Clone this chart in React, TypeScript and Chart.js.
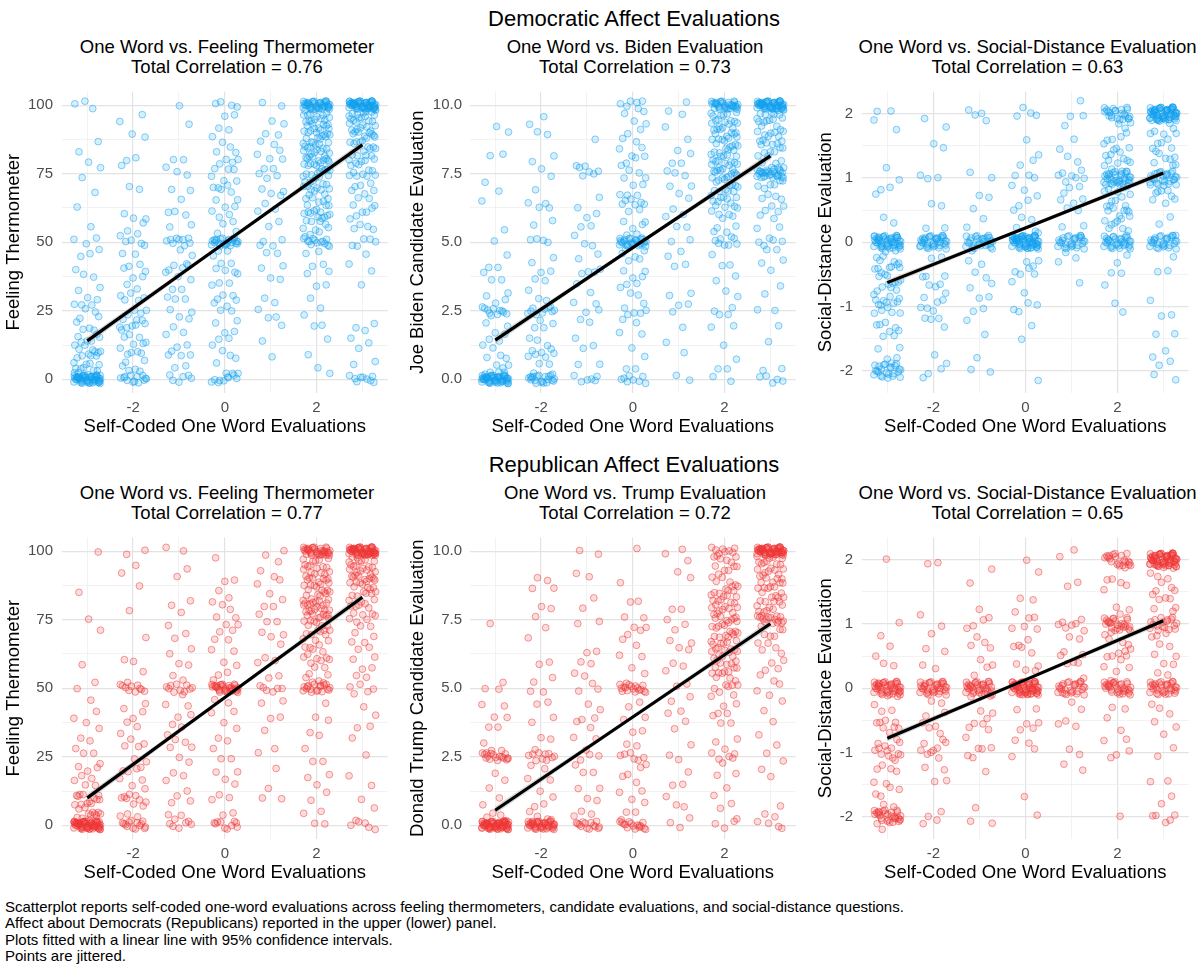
import React, { useEffect, useRef } from 'react';
import { Chart, registerables } from 'chart.js';

Chart.register(...registerables);

const FONT = "'Liberation Sans', Arial, Helvetica, sans-serif";

// ---------------- data ----------------
const CATEGORIES = [-3, -2, -1, 0, 1, 2, 3];
const X_GRID = [-3, -2, -1, 0, 1, 2, 3];
const X_TICKS = [-2, 0, 2];
const X_TICK_LABELS = ['-2', '0', '2'];
const FIT_X = [-3, 0, 3];

const FT_GRID = [0, 12.5, 25, 37.5, 50, 62.5, 75, 87.5, 100];
const FT_TICKS = [0, 25, 50, 75, 100];
const FT_TICK_LABELS = ['0', '25', '50', '75', '100'];
const TEN_GRID = [0, 1.25, 2.5, 3.75, 5, 6.25, 7.5, 8.75, 10];
const TEN_TICKS = [0, 2.5, 5, 7.5, 10];
const TEN_TICK_LABELS = ['0.0', '2.5', '5.0', '7.5', '10.0'];
const SOC_GRID = [-2, -1.5, -1, -0.5, 0, 0.5, 1, 1.5, 2];
const SOC_TICKS = [-2, -1, 0, 1, 2];
const SOC_TICK_LABELS = ['-2', '-1', '0', '1', '2'];

// observed y values per category (value*count = repeated observations)
const DEM_FT_COLUMNS = [
  '100*3 87 82 80 77 75 67 63 55 52 50*2 47 46 45 40 38 37 35 32 30 28*2 27 26 25*2 24 22 20*2 18 17 16 15*3 14 13 12*2 11 10*5 9 8*2 7*2 6 5*3 4*2 3*2 2*3 1*4 0*50',
  '95*2 90 88 81 80 78 70 69 60*2 59 56 55 53 51 50*4 47 45 42 40*3 38 36 35 32 30*4 28 26 25*2 23 22 21 20*5 19 18 16 15*3 13 12 10*4 9 8 6 5 4 3 2 1 0*12',
  '100 92 81 80 76 75*2 70 69 67 60*3 57 55 52 50*8 48 45 43 41 40*4 38 36 34 32 30*2 28 26 25 23 21 20 17 15 13 11 10*3 8 5 3 1*2 0*4',
  '100*4 97 95 92 90 88 86 85 83 82 81 80*2 78 77 76 75*2 73 72 71 70*2 69 68 67 65 63 62 60*3 58 56 55 53 51 50*24 48 46 45 43 41 40*3 38 36 35 33 31 30*2 29 28 27 25 24 22 20 18 16 15 14 12 10 9 8 5 3 2 1*2 0*8',
  '100*2 95 93 91 88 87 85 83 82 81 80 78 76 75*2 72 70 69 68 66 65 62 60 58 55 52 50*2 48 46 45 42 40 38 35 30 27 25 24 21 20 13 9',
  '100*40 99*2 98*3 97*3 96*3 95*4 94*3 93*3 92*3 91*3 90*5 89*3 88*3 87*3 86*3 85*4 84*3 83*3 82*3 81*3 80*5 79*3 78*3 77*3 76*3 75*5 74*2 73*2 72*2 71*2 70*4 69*2 68*2 67*2 66 65*3 64 63*2 62 61 60*8 59 58*2 57 56 55*3 54 53 52 51 50*12 48 45 42 40*2 38 35 33 30 25 23 21 18 15 8 5 2',
  '100*60 99*2 98*4 97*3 96*3 95*4 94*3 93*2 92*3 91*2 90*5 89*3 88*2 87*2 86*2 85*3 84*2 83*2 82 81*2 80*4 79 78 77*2 76 75*4 74 73 72 70*3 69 68 66 65 64 63 62 61 60*2 58 57 55*2 54 52 50*3 49 45 43 38 35 20*2 17 15 14 10 8 5 1 0*8',
];

const DEM_BIDEN_COLUMNS = [
  '9.3 9.0 8.3 8.1 7.2 6.8 6.6 5.3 5.1 4.5 4.2 4.0 3.9 3.7 3.5 3.3 3.0 2.8*2 2.5*10 2.2 2.0*2 1.8 1.5*2 1.3 1.2 1.0*2 0.8 0.7 0.6 0.5 0.4 0.3 0.2*2 0.1*3 0*50',
  '9.5 9.3 9.0 8.9 8.3 7.9 7.7 7.3 7.0 6.4 6.3*2 6.2 5.9 5.6 5.2 5.0*3 4.5 4.2 4.0 3.8 3.7 3.5 3.2 3.0 2.8 2.5*10 2.2 2.0*2 1.8 1.5 1.3*2 1.1 1.0*4 0.8 0.7 0.6 0.5 0.3 0.2 0*20',
  '8.8 7.7*5 7.5 7.3 6.7 6.2 6.0 5.9 5.6 5.5 5.2 5.0 4.8 4.6 4.3 4.0*3 3.8 3.5 3.1 2.9 2.6 2.5*2 2.3 2.0 1.5 1.3 1.0 0.7 0.5 0*6',
  '10*6 9.8 9.6 9.5 9.3 9.1 9.0 8.8 8.6 8.5 8.3 8.2 8.1 8.0*2 7.8 7.6 7.5*2 7.3 7.1 7.0 6.8 6.7 6.6 6.5*5 6.3 6.2 6.0 5.8 5.7 5.6 5.5 5.3 5.2 5.0*28 4.9 4.8 4.7 4.6 4.5 4.4 4.2 4.0 3.9 3.8 3.6 3.5 3.4 3.3 3.2 3.0 2.8 2.5*4 2.3 2.2 2.0 1.8 1.5 1.2 0.8 0.5 0.3 0*8',
  '10 9.8 9.6 9.3 8.6 8.4 8.2 8.0 7.8 7.6 7.5 7.4 7.2 7.0 6.8 6.5 6.3 6.0 5.8 5.6 5.5 5.2 5.0 4.8 4.4 4.2 4.0 3.2 3.0 2.8 2.6 2.5 1.8 1.3 1.1 0*2',
  '10*30 9.9*2 9.8*3 9.7*2 9.6*3 9.5*3 9.4*2 9.3*3 9.2*2 9.1*3 9.0*4 8.9*2 8.8*3 8.7*2 8.6*3 8.5*3 8.4*2 8.3*3 8.2*2 8.1*3 8.0*4 7.9*2 7.8*3 7.7*2 7.6*3 7.5*6 7.4*2 7.3*3 7.2*2 7.1*2 7.0*4 6.9 6.8*2 6.7*2 6.6*2 6.5*4 6.4 6.3*2 6.2 6.1 6.0*3 5.8 5.7 5.5*2 5.3 5.2 5.0*6 4.8 4.5 4.3 4.0 3.8 3.5 3.3 3.0 2.5*3 2.3 2.0 1.8 1.3 0.7 0.5 0.3 0.1 0',
  '10*55 9.9*2 9.8*3 9.7*2 9.6*2 9.5*4 9.4*2 9.3*2 9.2*2 9.0*4 8.9*2 8.8*2 8.7*2 8.6*2 8.5*3 8.4 8.3*2 8.2 8.1 8.0*3 7.8*2 7.7*2 7.6*3 7.5*22 7.4*2 7.3*2 7.2 7.1 7.0*3 6.8 6.6*2 6.5 6.4 6.3*2 6.0*2 5.8 5.6 5.4 5.2 5.0*4 4.8 4.6 4.5 4.2 4.0 3.3 3.2 2.5 2.4 2.0 1.3 0.5 0.3 0*5',
];

const DEM_SOCIAL_COLUMNS = [
  '2.05 2.0 1.97 1.65 1.2 0.95 0.9 0.8 0.75 0.35 0.3 0.05*3 0*45 -0.1 -0.2 -0.25 -0.3*5 -0.35 -0.45*6 -0.55 -0.6*6 -0.7 -0.75*3 -0.85 -0.9*6 -1.0*6 -1.1 -1.2 -1.3*5 -1.35 -1.45 -1.55 -1.6 -1.7 -1.75 -1.9 -1.95*3 -2.0*20 -2.05 -2.1',
  '1.9*2 1.55 1.4 1.05 1.0 0.95 0.6 0.55 0.3 0.2 0.15 0*35 -0.15 -0.2 -0.3 -0.45 -0.55 -0.6*2 -0.65 -0.75*2 -0.9 -1.0*4 -1.05 -1.1 -1.3*2 -1.25 -1.7 -1.9 -1.95 -2.05 -2.1',
  '2.1 2.0 1.9*2 1.05*2 0.8 0.6 0.55 0.3 0.2 0.15 0*28 -0.15 -0.25 -0.35 -0.55*2 -0.6 -0.75 -0.8 -0.95 -1.05 -1.1 -1.25 -1.35 -1.9 -2.0 -2.05',
  '2.1 2.0*2 1.9 1.65 1.35 1.3 1.2 1.05 1.0 0.95 0.9 0.85 0.7 0.65 0.6 0.5 0.4 0.3 0.25 0.2 0.1*3 0*62 -0.25 -0.3 -0.4 -0.45*3 -0.55 -0.6 -0.75 -1.0*3 -1.05 -1.25 -1.6 -2.05',
  '2.1 2.0 1.95 1.9 1.55 1.45 1.3 1.25 1.1 1.05*3 1.0*2 0.95 0.9 0.8 0.75*2 0.7 0.6 0.5 0.45 0.3 0.2 0*28 -0.1 -0.25 -0.4 -0.6',
  '2.0*20 1.95*2 1.9*2 1.85 1.7*2 1.6*4 1.5 1.45*2 1.35*5 1.25*2 1.2*2 1.1*2 1.0*30 0.9*3 0.85*2 0.8*3 0.7*3 0.6*2 0.55*2 0.5*3 0.45*3 0.4*2 0.3*4 0.2*2 0.15 0*32 -0.25 -0.3 -0.45 -0.55 -0.7 -1.0 -1.05',
  '2.0*65 1.9*2 1.8*2 1.7*3 1.6*3 1.5*2 1.4*4 1.3*2 1.25 1.2 1.1*3 1.0*22 0.95 0.9*2 0.85 0.8*2 0.75*4 0.7 0.6 0.4 0.2 0.15 0*28 -0.3 -0.4 -0.45 -1.0 -1.1 -1.2 -1.35 -1.45 -1.6 -1.85*2 -2.0 -2.1*2',
];

const REP_FT_COLUMNS = [
  '100 84 76 71 60 51 50 45 40*2 38 35 33 30 28 27 25 24 21 20*2 19 17 15*2 14 12 11 10*6 9 8*2 7*2 6 5*4 4*2 3*3 2*3 1*5 0*60',
  '100*2 94 92 88 77 70 60*2 55 53 51 50*8 48 45 42 40*2 38 35 33 30*3 28 25 23 21 20*3 18 15*2 13 11 10*6 8 6 5 3 2 1*2 0*12',
  '100*2 94 90 83 80 79 72 70 67 65 62 60 57 55 52 50*10 47 45 42 40*2 38 35 33 31 30*2 28 25 22 20 18 15 13 10*2 8 5 3 1*3 0*4',
  '97 90 88 86 82 81 80 79 76 75 74 73 72 70 68 67 65 62 60 58 56 55 53 51 50*30 48 46 44 42 40 38 35 33 30 28 25 23 21 19 17 14 12 10 8 5 3 2 1 0*8',
  '100*2 95 93 90 89 88 85 82 81 79 77 75 73 71 70 69 65 62 60 58 55 53 51 50*4 48 46 44 40 38 35 27 26 22 12 10 9',
  '100*32 99*2 98*2 97*3 96*2 95*3 94*3 93*2 92*3 91*2 90*4 89*3 88*3 87*3 86*2 85*3 84*3 83*3 82*3 81*3 80*5 79*4 78*3 77*3 76*3 75*4 74*2 73*2 72*2 71*2 70*3 69 68*2 67 66 65*2 64 63 62*2 61 60*4 58 57 56 55 54 53 52 51 50*18 43 40 38 35 32 28 24 22 20 17 15 11 10 5 3 1 0',
  '100*60 99*2 98*3 97*3 96*3 95*3 94*3 93*3 92*3 91*3 90*5 89*3 88*3 87*2 86*2 85*3 84*2 83*2 82*2 81 80*3 79 78 77*2 76 75*2 74 73 72 70*2 68 66 65 63 62 60 58 56 55 53 50*4 47 44 40 37 35 32 25 19 13 10 6 3 0*5',
];

const REP_TRUMP_COLUMNS = [
  '7.5 5.1 5.0 4.9 4.5 4.2 4.0 3.9 3.7 3.5 3.0 2.8 2.6*3 2.5*14 2.4 2.0 1.5 1.4 0.9 0.7 0.5 0.3 0.2*2 0.1*3 0*65',
  '9.0 8.9 8.8 8.6 8.0 7.8 7.7 7.2 6.7 6.0 5.8 5.5 5.2 5.0 4.8 4.5 4.3 4.0 3.7 3.3 3.0 2.8 2.5*10 2.2 2.0 1.8 1.5 1.3 1.0 0.8 0.7 0.5 0.3 0.2*2 0.1*3 0*40',
  '10*2 9.2 9.1 8.3 7.8 7.5 7.3 6.4 6.2 6.0 5.8 5.5 5.3*2 5.0 4.8 4.5 4.2 4.0 3.8*2 3.5 3.3 3.0 2.8 2.5*3 2.2 2.0 1.8 1.5 1.3 1.0 0.8 0.6 0.4 0.2 0*14',
  '10 8.8 8.3 8.0 7.6 7.5 7.3 7.2 7.1 7.0 6.8 6.5 6.3 6.0 5.8 5.5 5.3 5.0*16 4.8 4.5 4.2 4.0 3.8 3.5 3.3 3.0 2.8 2.5*6 2.2 2.0*2 1.8 1.5 1.3 1.1 1.0 0.8 0.6 0.4 0.2 0*16',
  '10*2 9.5 9.3 9.0 8.0 7.8 7.5 7.4 7.0 6.8 6.7 6.5 6.3 6.0 5.8 5.5 5.2 5.0 4.8 4.5 4.3 4.0 3.8 3.4 3.0 2.5*2 1.8 1.5 1.4 1.0 0.8 0.6 0.3 0*2',
  '10*8 9.9 9.8*2 9.7 9.6*2 9.5 9.4*2 9.3 9.2*2 9.0*2 8.9 8.8*2 8.7*2 8.6*2 8.5*3 8.4*2 8.3*3 8.2*2 8.1*2 8.0*3 7.9*2 7.8*3 7.7*2 7.6*2 7.5*4 7.4*2 7.3*2 7.2*3 7.1*2 7.0*3 6.9*2 6.8*3 6.7*2 6.6*3 6.5*3 6.4*2 6.3*3 6.2*2 6.1*2 6.0*3 5.9 5.8*2 5.7*2 5.6*2 5.5*3 5.4 5.3*2 5.2 5.1 5.0*4 4.8 4.6 4.4*2 4.2 4.0*2 3.8 3.6 3.3 3.0 2.8 2.5*5 2.2 2.0 1.8 1.5 1.0 0.8 0.5 0.3 0*3',
  '10*60 9.9*2 9.8*2 9.7*3 9.6*2 9.5*3 9.4*2 9.3*2 9.2*3 9.1*2 9.0*3 8.9*2 8.8*2 8.7*2 8.6*2 8.5*3 8.4*2 8.3*2 8.2*2 8.1*2 8.0*3 7.9 7.8*2 7.7*2 7.6*3 7.5*10 7.4*2 7.2*2 7.0*3 6.8 6.6*2 6.5 6.3*2 6.0*2 5.8 5.6 5.5 5.2 5.0*2 4.8 4.5 4.3 3.7 3.3 3.0 2.5*2 2.0 1.8 0.6 0.5 0.3 0*4',
];

const REP_SOCIAL_COLUMNS = [
  '2.05 1.0 0.9 0.6 0.5 0.4 0.3 0.05*3 0*40 -0.1 -0.2 -0.3 -0.35*2 -0.5 -0.55*3 -0.6*3 -0.7 -0.8 -0.9*3 -1.0*8 -1.05 -1.1 -1.2 -1.25 -1.3 -1.4*2 -1.45 -1.6*3 -1.65 -1.8 -1.9 -1.95*3 -2.0*25 -2.1*3',
  '2.0 1.95 1.05 1.0 0.8 0.65 0.6 0.4 0.3 0*35 -0.2 -0.25 -0.3 -0.45 -0.5 -0.6 -0.7*2 -0.8 -0.9*3 -1.0*4 -1.1 -1.25 -1.3 -1.4 -1.45 -1.9 -2.0 -2.1*2',
  '1.9 1.6 1.3 1.0*3 0.9 0.8 0.7 0.65 0.6 0.5 0.35 0.3 0.25 0*35 -0.1 -0.2 -0.3 -0.4 -0.45 -0.55 -0.6*2 -0.7 -0.75 -0.9 -0.95 -1.0*2 -1.05 -1.25 -1.95 -2.0 -2.1',
  '2.05 1.8 1.5 1.3 1.2 1.05 1.0*3 0.9 0.75 0.7 0.65 0.6 0.55 0.45 0.35 0.3 0.2 0*60 -0.2 -0.3 -0.4 -0.5 -0.55*2 -0.7 -0.8 -0.9 -1.0 -1.05 -1.65 -2.0',
  '2.1 2.05 1.7 1.5 1.0*6 0.9 0.8 0.75 0.6 0.55 0.5 0.45 0.4 0.3 0.2 0*26 -0.1 -0.2 -0.4 -0.45 -0.6 -0.65 -1.0*2 -1.2*2',
  '2.0*20 1.9 1.8*2 1.7 1.6*2 1.5 1.3 1.2 1.1*2 1.0*22 0.9*2 0.8*3 0.7*2 0.6*3 0.5*2 0.4*3 0.3*2 0.2 0*32 -0.2 -0.4 -0.45 -0.7 -0.75 -0.9 -1.0*3 -2.05',
  '2.0*65 1.9*2 1.8*2 1.7*2 1.6*3 1.5*2 1.4*2 1.3*2 1.2 1.1*2 1.0*16 0.9*2 0.8*2 0.7 0.6*2 0.5 0.4 0.3*2 0.2 0*32 -0.25 -0.35 -0.4 -0.5 -0.55 -0.7 -1.0*2 -1.45 -1.55 -1.65 -1.85 -1.9 -2.0*2 -2.05*2',
];

// fitted linear lines at x = -3, 0, 3 and 95% CI half widths
const DEM_FT_FIT = [14, 49.8, 85.5];
const DEM_BIDEN_FIT = [1.43, 4.8, 8.15];
const DEM_SOCIAL_FIT = [-0.63, 0.22, 1.08];
const REP_FT_FIT = [10, 46.6, 83.2];
const REP_TRUMP_FIT = [0.55, 3.95, 7.35];
const REP_SOCIAL_FIT = [-0.78, 0.13, 1.05];
const FT_CI = [1.4, 0.6, 1.4];
const TEN_CI = [0.14, 0.06, 0.14];
const SOC_CI = [0.05, 0.025, 0.05];

// fixed jitter offsets (fraction of jitter width / height)
const JITTER_DX = [-0.27, 0.12, -0.05, 0.24, -0.18, 0.03, 0.29, -0.11, 0.17, -0.22, 0.08, -0.29, 0.2, -0.02, 0.26, -0.14, 0.06, -0.25, 0.14, -0.08, 0.28, -0.19, 0.01, 0.22, -0.12, 0.1, -0.28, 0.18, -0.04, 0.25, -0.16, 0.05, -0.23, 0.15, -0.09, 0.27, -0.2, 0.0, 0.21, -0.13, 0.09];
const JITTER_DY = [0.3, -0.8, 0.9, -0.2, 0.6, -0.5, 0.1, -0.9, 0.7, -0.1, 0.4, -0.6, 0.95, -0.35, 0.2, -0.75, 0.5, 0.0, -0.45, 0.8, -0.95, 0.25, -0.15, 0.65, -0.55, 0.05, 0.85, -0.3, 0.45, -0.7, 0.15, -0.85, 0.55, -0.05, 0.75, -0.4, 0.35, -0.65, 0.9, -0.25, 0.6];

// ---------------- helpers ----------------
function expand(s: string): number[] {
  const out: number[] = [];
  for (const tok of s.trim().split(/\s+/)) {
    const [v, n] = tok.split('*');
    const c = n ? parseInt(n, 10) : 1;
    for (let i = 0; i < c; i++) out.push(parseFloat(v));
  }
  return out;
}

function buildPoints(cols: string[], yJit: number, seed: number) {
  const pts: { x: number; y: number }[] = [];
  cols.forEach((col, ci) => {
    expand(col).forEach((y, i) => {
      const k = (seed + ci * 11 + i) % JITTER_DX.length;
      pts.push({ x: CATEGORIES[ci] + JITTER_DX[k], y: y + JITTER_DY[k] * yJit });
    });
  });
  return pts;
}

const BLUE = [20, 162, 240];
const RED = [240, 55, 55];
const rgba = (c: number[], a: number) => `rgba(${c[0]},${c[1]},${c[2]},${a})`;

const PLOT_H = 306;
const X_AXIS_H = 45;
const ROW_TOP = [87, 533];
const COLS = [
  { plotLeft: 62, plotW: 330, yAxisW: 62, titlePad: 3, tickPad: 9 },
  { plotLeft: 470, plotW: 330, yAxisW: 70, titlePad: 7, tickPad: 8 },
  { plotLeft: 862, plotW: 331, yAxisW: 62, titlePad: 15, tickPad: 9 },
];

type PanelCfg = {
  row: number; col: number; title: string; subtitle: string; yTitle: string;
  columns: string[]; fit: number[]; ci: number[]; color: number[];
  yMin: number; yMax: number; yGrid: number[]; yTicks: number[]; yLabels: string[]; yJit: number; seed: number;
};

const PANELS: PanelCfg[] = [
  { row: 0, col: 0, title: 'One Word vs. Feeling Thermometer', subtitle: 'Total Correlation = 0.76', yTitle: 'Feeling Thermometer', columns: DEM_FT_COLUMNS, fit: DEM_FT_FIT, ci: FT_CI, color: BLUE, yMin: -5, yMax: 105, yGrid: FT_GRID, yTicks: FT_TICKS, yLabels: FT_TICK_LABELS, yJit: 1.6, seed: 0 },
  { row: 0, col: 1, title: 'One Word vs. Biden Evaluation', subtitle: 'Total Correlation = 0.73', yTitle: 'Joe Biden Candidate Evaluation', columns: DEM_BIDEN_COLUMNS, fit: DEM_BIDEN_FIT, ci: TEN_CI, color: BLUE, yMin: -0.5, yMax: 10.5, yGrid: TEN_GRID, yTicks: TEN_TICKS, yLabels: TEN_TICK_LABELS, yJit: 0.16, seed: 5 },
  { row: 0, col: 2, title: 'One Word vs. Social-Distance Evaluation', subtitle: 'Total Correlation = 0.63', yTitle: 'Social-Distance Evaluation', columns: DEM_SOCIAL_COLUMNS, fit: DEM_SOCIAL_FIT, ci: SOC_CI, color: BLUE, yMin: -2.35, yMax: 2.35, yGrid: SOC_GRID, yTicks: SOC_TICKS, yLabels: SOC_TICK_LABELS, yJit: 0.11, seed: 9 },
  { row: 1, col: 0, title: 'One Word vs. Feeling Thermometer', subtitle: 'Total Correlation = 0.77', yTitle: 'Feeling Thermometer', columns: REP_FT_COLUMNS, fit: REP_FT_FIT, ci: FT_CI, color: RED, yMin: -5, yMax: 105, yGrid: FT_GRID, yTicks: FT_TICKS, yLabels: FT_TICK_LABELS, yJit: 1.6, seed: 3 },
  { row: 1, col: 1, title: 'One Word vs. Trump Evaluation', subtitle: 'Total Correlation = 0.72', yTitle: 'Donald Trump Candidate Evaluation', columns: REP_TRUMP_COLUMNS, fit: REP_TRUMP_FIT, ci: TEN_CI, color: RED, yMin: -0.5, yMax: 10.5, yGrid: TEN_GRID, yTicks: TEN_TICKS, yLabels: TEN_TICK_LABELS, yJit: 0.16, seed: 7 },
  { row: 1, col: 2, title: 'One Word vs. Social-Distance Evaluation', subtitle: 'Total Correlation = 0.65', yTitle: 'Social-Distance Evaluation', columns: REP_SOCIAL_COLUMNS, fit: REP_SOCIAL_FIT, ci: SOC_CI, color: RED, yMin: -2.35, yMax: 2.35, yGrid: SOC_GRID, yTicks: SOC_TICKS, yLabels: SOC_TICK_LABELS, yJit: 0.11, seed: 13 },
];

const MAJOR_GRID = '#E3E3E3';
const MINOR_GRID = '#EFEFEF';

function Panel({ cfg }: { cfg: PanelCfg }) {
  const ref = useRef<HTMLCanvasElement | null>(null);
  const c = COLS[cfg.col];
  const left = c.plotLeft - c.yAxisW;
  const top = ROW_TOP[cfg.row];
  const width = c.yAxisW + c.plotW;
  const height = PLOT_H + X_AXIS_H;

  useEffect(() => {
    if (!ref.current) return;
    const pts = buildPoints(cfg.columns, cfg.yJit, cfg.seed);
    const fitData = FIT_X.map((x, i) => ({ x, y: cfg.fit[i] }));
    const upper = FIT_X.map((x, i) => ({ x, y: cfg.fit[i] + cfg.ci[i] }));
    const lower = FIT_X.map((x, i) => ({ x, y: cfg.fit[i] - cfg.ci[i] }));
    const isMajorX = (v: number) => X_TICKS.includes(v);
    const isMajorY = (v: number) => cfg.yTicks.includes(v);

    const chart = new Chart(ref.current, {
      type: 'scatter',
      data: {
        datasets: [
          { type: 'line', data: fitData, borderColor: '#000000', borderWidth: 3.2, pointRadius: 0, fill: false, order: 0, tension: 0 } as any,
          { type: 'line', data: upper, borderColor: 'rgba(0,0,0,0)', borderWidth: 0, pointRadius: 0, fill: false, order: 1 } as any,
          { type: 'line', data: lower, borderColor: 'rgba(0,0,0,0)', borderWidth: 0, pointRadius: 0, fill: '-1', backgroundColor: 'rgba(160,160,160,0.4)', order: 1 } as any,
          {
            type: 'scatter', data: pts, pointRadius: 3.4, pointHoverRadius: 3.4,
            backgroundColor: rgba(cfg.color, 0.17), borderColor: rgba(cfg.color, 0.5), borderWidth: 1, order: 2,
          } as any,
        ],
      },
      options: {
        animation: false,
        responsive: false,
        events: [],
        layout: { padding: 0 },
        plugins: { legend: { display: false }, tooltip: { enabled: false }, title: { display: false } },
        scales: {
          x: {
            type: 'linear', min: -3.55, max: 3.55,
            afterBuildTicks: (s: any) => { s.ticks = X_GRID.map((v) => ({ value: v })); },
            afterFit: (s: any) => { s.height = X_AXIS_H; s.paddingLeft = 0; s.paddingRight = 0; },
            ticks: {
              autoSkip: false, maxRotation: 0, minRotation: 0, padding: 6, color: '#4D4D4D',
              font: { family: FONT, size: 15 },
              callback: (v: any) => { const i = X_TICKS.indexOf(Number(v)); return i >= 0 ? X_TICK_LABELS[i] : ''; },
            },
            grid: {
              drawTicks: false,
              color: (ctx: any) => (ctx.tick && isMajorX(ctx.tick.value) ? MAJOR_GRID : MINOR_GRID),
              lineWidth: (ctx: any) => (ctx.tick && isMajorX(ctx.tick.value) ? 1.2 : 0.8),
            },
            border: { display: false },
            title: { display: true, text: 'Self-Coded One Word Evaluations', color: '#000', font: { family: FONT, size: 18.5 }, padding: { top: 0, bottom: 0 } },
          },
          y: {
            type: 'linear', min: cfg.yMin, max: cfg.yMax,
            afterBuildTicks: (s: any) => { s.ticks = cfg.yGrid.map((v) => ({ value: v })); },
            afterFit: (s: any) => { s.width = c.yAxisW; s.paddingTop = 0; s.paddingBottom = 0; },
            ticks: {
              autoSkip: false, padding: c.tickPad, color: '#4D4D4D',
              font: { family: FONT, size: 15 },
              callback: (v: any) => { const i = cfg.yTicks.indexOf(Number(v)); return i >= 0 ? cfg.yLabels[i] : ''; },
            },
            grid: {
              drawTicks: false,
              color: (ctx: any) => (ctx.tick && isMajorY(ctx.tick.value) ? MAJOR_GRID : MINOR_GRID),
              lineWidth: (ctx: any) => (ctx.tick && isMajorY(ctx.tick.value) ? 1.2 : 0.8),
            },
            border: { display: false },
            title: { display: true, text: cfg.yTitle, color: '#000', font: { family: FONT, size: 18.5 }, padding: { top: c.titlePad, bottom: 0 } },
          },
        },
      } as any,
    });
    return () => chart.destroy();
  }, []);

  const cx = c.plotLeft + c.plotW / 2;
  const titleTop = top - 40;
  return (
    <>
      <div style={{ position: 'absolute', left: cx, top: titleTop, transform: 'translate(-50%, -50%)', whiteSpace: 'nowrap', font: `18.5px ${FONT}`, lineHeight: 1, color: '#000' }}>{cfg.title}</div>
      <div style={{ position: 'absolute', left: cx, top: titleTop + 20, transform: 'translate(-50%, -50%)', whiteSpace: 'nowrap', font: `18.5px ${FONT}`, lineHeight: 1, color: '#000' }}>{cfg.subtitle}</div>
      <canvas ref={ref} width={width} height={height} style={{ position: 'absolute', left, top, width, height }} />
    </>
  );
}

const CAPTION_LINES = [
  'Scatterplot reports self-coded one-word evaluations across feeling thermometers, candidate evaluations, and social-distance questions.',
  'Affect about Democrats (Republicans) reported in the upper (lower) panel.',
  'Plots fitted with a linear line with 95% confidence intervals.',
  'Points are jittered.',
];

export default function App() {
  return (
    <div style={{ position: 'absolute', left: 0, top: 0, width: 1204, height: 965, background: '#fff', overflow: 'hidden', fontFamily: FONT }}>
      <div style={{ position: 'absolute', left: 634, top: 19, transform: 'translate(-50%, -50%)', whiteSpace: 'nowrap', font: `22px ${FONT}`, lineHeight: 1, color: '#000' }}>Democratic Affect Evaluations</div>
      <div style={{ position: 'absolute', left: 634, top: 465, transform: 'translate(-50%, -50%)', whiteSpace: 'nowrap', font: `22px ${FONT}`, lineHeight: 1, color: '#000' }}>Republican Affect Evaluations</div>
      {PANELS.map((p, i) => <Panel key={i} cfg={p} />)}
      {CAPTION_LINES.map((t, i) => (
        <div key={i} style={{ position: 'absolute', left: 5, top: 906 + i * 16.3, transform: 'translateY(-50%)', whiteSpace: 'nowrap', font: `15px ${FONT}`, lineHeight: 1, color: '#000' }}>{t}</div>
      ))}
    </div>
  );
}
